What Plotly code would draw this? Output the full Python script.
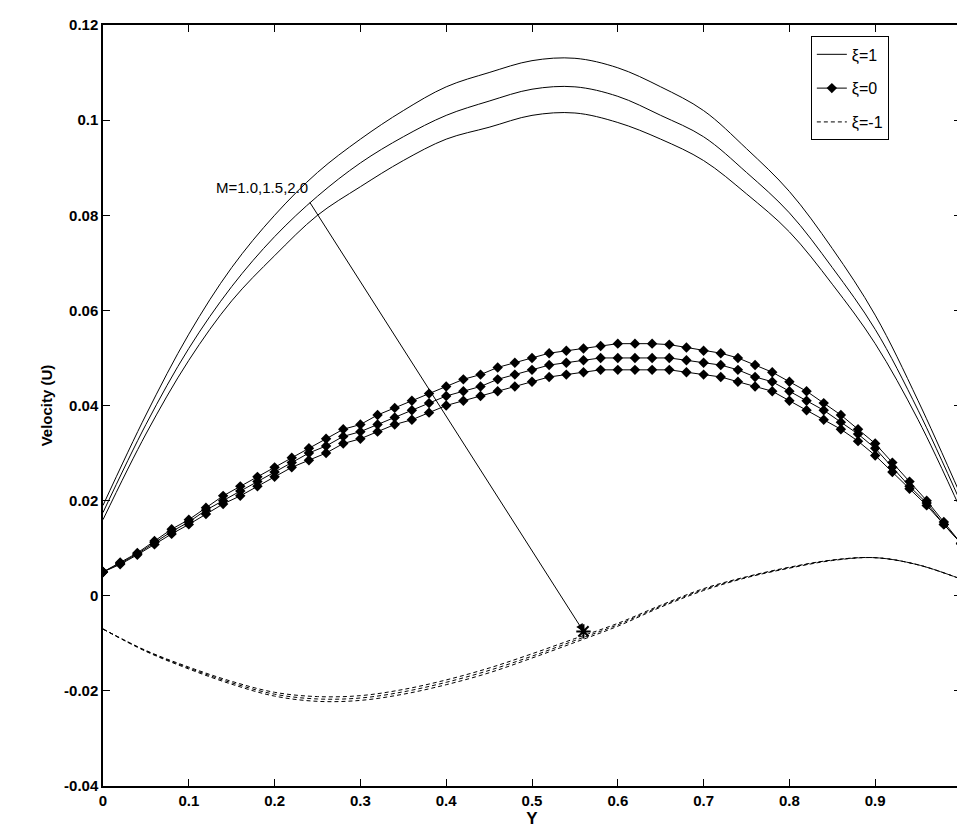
import plotly.graph_objects as go

Y50 = [round(i * 0.05, 2) for i in range(21)]
Y20 = [round(i * 0.02, 2) for i in range(51)]

xi1_M10 = [0.019, 0.038, 0.055, 0.069, 0.080, 0.089, 0.096, 0.102, 0.107, 0.110, 0.1125,
           0.113, 0.111, 0.107, 0.102, 0.094, 0.085, 0.073, 0.059, 0.041, 0.021]
xi1_M15 = [0.0175, 0.036, 0.052, 0.065, 0.0755, 0.084, 0.091, 0.0965, 0.101, 0.104, 0.1065,
           0.107, 0.105, 0.101, 0.0965, 0.089, 0.0805, 0.069, 0.056, 0.039, 0.0195]
xi1_M20 = [0.016, 0.034, 0.0495, 0.062, 0.0715, 0.080, 0.086, 0.0915, 0.096, 0.0985, 0.101,
           0.1015, 0.0995, 0.096, 0.0915, 0.0845, 0.0765, 0.0655, 0.053, 0.037, 0.018]

xi0_M10 = [0.005, 0.007, 0.009, 0.0115, 0.014, 0.016, 0.0185, 0.021, 0.023, 0.025,
           0.027, 0.029, 0.031, 0.033, 0.035, 0.036, 0.038, 0.0395, 0.041, 0.0425,
           0.044, 0.0455, 0.0465, 0.048, 0.049, 0.050, 0.051, 0.0515, 0.052, 0.0525,
           0.053, 0.053, 0.053, 0.0528, 0.0522, 0.0515, 0.051, 0.050, 0.0485, 0.047,
           0.045, 0.043, 0.0405, 0.038, 0.035, 0.032, 0.028, 0.024, 0.020, 0.0155, 0.011]
xi0_M15 = [0.005, 0.0068, 0.0088, 0.0112, 0.0135, 0.0155, 0.018, 0.020, 0.022, 0.024,
           0.026, 0.028, 0.030, 0.0315, 0.0335, 0.0345, 0.036, 0.0375, 0.039, 0.0405,
           0.042, 0.043, 0.044, 0.0455, 0.0465, 0.0475, 0.0485, 0.049, 0.0495, 0.050,
           0.050, 0.050, 0.050, 0.050, 0.0495, 0.049, 0.0485, 0.0475, 0.046, 0.045,
           0.043, 0.041, 0.039, 0.0365, 0.034, 0.031, 0.027, 0.023, 0.0195, 0.015, 0.011]
xi0_M20 = [0.005, 0.0066, 0.0086, 0.0108, 0.013, 0.015, 0.0172, 0.0193, 0.021, 0.023,
           0.025, 0.027, 0.0285, 0.030, 0.032, 0.033, 0.0345, 0.036, 0.037, 0.0385,
           0.040, 0.041, 0.042, 0.043, 0.044, 0.045, 0.046, 0.0465, 0.047, 0.0475,
           0.0475, 0.0475, 0.0475, 0.0475, 0.047, 0.0465, 0.046, 0.045, 0.044, 0.043,
           0.041, 0.039, 0.037, 0.035, 0.0325, 0.0295, 0.026, 0.0225, 0.019, 0.015, 0.011]

xim1_M10 = [-0.007, -0.0115, -0.015, -0.018, -0.0203, -0.0212, -0.0210, -0.0197, -0.0177,
            -0.0152, -0.0122, -0.0090, -0.0058, -0.0020, 0.0015, 0.0040, 0.0060, 0.0075,
            0.0080, 0.0065, 0.0035]
xim1_M15 = [-0.007, -0.0116, -0.0152, -0.0183, -0.0207, -0.0217, -0.0215, -0.0202, -0.0182,
            -0.0157, -0.0127, -0.0094, -0.0061, -0.0022, 0.0013, 0.0039, 0.0059, 0.0075,
            0.0080, 0.0065, 0.0035]
xim1_M20 = [-0.007, -0.0117, -0.0154, -0.0186, -0.0211, -0.0222, -0.0220, -0.0207, -0.0187,
            -0.0162, -0.0131, -0.0098, -0.0064, -0.0024, 0.0011, 0.0038, 0.0058, 0.0074,
            0.0080, 0.0065, 0.0035]

legend_names = ["\u03be=1", "\u03be=0", "\u03be=-1"]

fig = go.Figure()
for i, ys in enumerate([xi1_M10, xi1_M15, xi1_M20]):
    fig.add_trace(go.Scatter(x=Y50, y=ys, mode="lines", line=dict(color="black", width=1, shape="spline"),
                             name=legend_names[0], showlegend=(i == 0), legendgroup="a"))
for i, ys in enumerate([xi0_M10, xi0_M15, xi0_M20]):
    fig.add_trace(go.Scatter(x=Y20, y=ys, mode="lines+markers", line=dict(color="black", width=1),
                             marker=dict(symbol="diamond", size=8, color="black"),
                             name=legend_names[1], showlegend=(i == 0), legendgroup="b"))
for i, ys in enumerate([xim1_M10, xim1_M15, xim1_M20]):
    fig.add_trace(go.Scatter(x=Y50, y=ys, mode="lines", line=dict(color="black", width=1, dash="4px,3px", shape="spline"),
                             name=legend_names[2], showlegend=(i == 0), legendgroup="c"))

fig.add_annotation(x=0.56, y=-0.0075, ax=0.24, ay=0.083, xref="x", yref="y", axref="x", ayref="y",
                   showarrow=True, arrowhead=2, arrowsize=1.5, arrowwidth=1, arrowcolor="black", text="")
fig.add_trace(go.Scatter(x=[0.56], y=[-0.0075], mode="markers", showlegend=False,
                         marker=dict(symbol="asterisk-open", size=12, color="black", line=dict(width=2, color="black"))))
fig.add_annotation(x=0.185, y=0.0858, xref="x", yref="y", text="M=1.0,1.5,2.0", showarrow=False,
                   font=dict(size=15, family="Liberation Sans", color="black"))

axis = dict(showgrid=False, zeroline=False, showline=True, linecolor="black", linewidth=1.5, mirror="ticks",
            ticks="inside", ticklen=7, tickcolor="black",
            tickfont=dict(family="Liberation Sans", size=15, color="black", weight="bold"))
fig.update_xaxes(range=[0, 1], tickvals=[0, .1, .2, .3, .4, .5, .6, .7, .8, .9, 1],
                 ticktext=["0", "0.1", "0.2", "0.3", "0.4", "0.5", "0.6", "0.7", "0.8", "0.9", "1"],
                 title=dict(text="<b>Y</b>", font=dict(family="Liberation Sans", size=17, color="black"), standoff=4),
                 **axis)
fig.update_yaxes(range=[-0.04, 0.12], tickvals=[-0.04, -0.02, 0, 0.02, 0.04, 0.06, 0.08, 0.1, 0.12],
                 ticktext=["-0.04", "-0.02", "0", "0.02", "0.04", "0.06", "0.08", "0.1", "0.12"],
                 title=dict(text="<b>Velocity (U)</b>", font=dict(family="Liberation Sans", size=15, color="black"), standoff=8),
                 **axis)
fig.update_layout(width=965, height=835, margin=dict(l=95, r=8, t=10, b=57),
                  plot_bgcolor="white", paper_bgcolor="white",
                  legend=dict(x=0.825, y=0.985, xanchor="left", yanchor="top", bordercolor="black", borderwidth=1,
                              bgcolor="white", font=dict(family="Liberation Sans", size=16, color="black")))
fig.write_html("out.html")
